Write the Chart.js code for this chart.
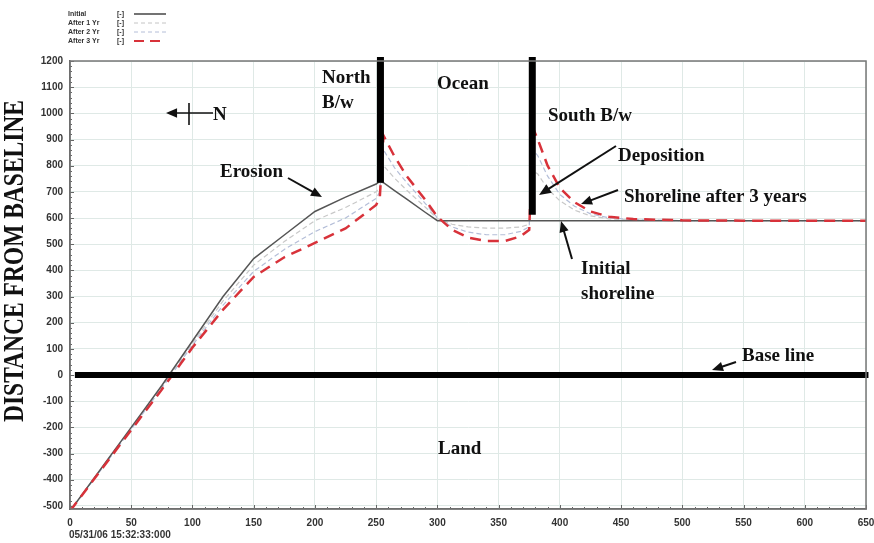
<!DOCTYPE html>
<html>
<head>
<meta charset="utf-8">
<script src="https://cdn.jsdelivr.net/npm/chart.js@4.4.0/dist/chart.umd.min.js"></script>
<style>
  html, body { margin: 0; padding: 0; background: #fff; }
</style>
</head>
<body>
<canvas id="shoreChart" width="874" height="543"></canvas>
<script>
// distance along shore (x) and shoreline position for each run
const alongShore = [0, 25, 50, 75, 100, 125, 150, 175, 200, 225, 250, 253, 256, 265, 275, 290, 300, 312, 325, 340, 355, 368, 375, 378, 382, 390, 400, 412, 425, 440, 460, 500, 550, 600, 650];
const initialLine = [-520, -360, -200, -40, 130, 300, 445, 535, 625, 680, 730, 740, 735, 705, 672, 622, 590, 590, 590, 590, 590, 590, 590, 590, 590, 590, 590, 590, 590, 590, 590, 590, 590, 590, 590];
const after1Yr = [-520, -362, -204, -45, 122, 283, 420, 510, 590, 640, 700, 718, 800, 752, 706, 642, 598, 576, 566, 561, 561, 566, 576, 780, 768, 712, 666, 630, 608, 597, 592, 590, 590, 590, 590];
const after2Yr = [-520, -364, -207, -50, 114, 267, 396, 480, 548, 600, 675, 700, 860, 792, 735, 656, 601, 566, 546, 536, 536, 549, 566, 860, 838, 760, 690, 645, 616, 601, 594, 590, 590, 590, 590];
const after3Yr = [-520, -365, -210, -55, 105, 250, 375, 450, 505, 560, 650, 680, 915, 835, 760, 670, 605, 555, 525, 512, 512, 530, 555, 945, 900, 800, 715, 660, 625, 605, 596, 591, 590, 590, 590];

// structures
const northBreakwater = [{ x: 253.5, y: 1215 }, { x: 253.5, y: 735 }];
const southBreakwater = [{ x: 377.5, y: 1215 }, { x: 377.5, y: 612 }];
const baseLine = [{ x: 4, y: 0 }, { x: 652, y: 0 }];

const xTicks = [0, 50, 100, 150, 200, 250, 300, 350, 400, 450, 500, 550, 600, 650];
const yTicks = [-500, -400, -300, -200, -100, 0, 100, 200, 300, 400, 500, 600, 700, 800, 900, 1000, 1100, 1200];

const legendItems = ['Initial', 'After 1 Yr', 'After 2 Yr', 'After 3 Yr'];

function toPoints(ys) {
  return alongShore.map((x, i) => ({ x: x, y: ys[i] }));
}

const SERIF = '"Liberation Serif", "DejaVu Serif", serif';
const SANS = '"Liberation Sans", Arial, sans-serif';

function arrow(ctx, x1, y1, x2, y2, head) {
  const a = Math.atan2(y2 - y1, x2 - x1);
  ctx.beginPath();
  ctx.moveTo(x1, y1);
  ctx.lineTo(x2 - Math.cos(a) * head * 0.8, y2 - Math.sin(a) * head * 0.8);
  ctx.stroke();
  ctx.beginPath();
  ctx.moveTo(x2, y2);
  ctx.lineTo(x2 - head * Math.cos(a - 0.4), y2 - head * Math.sin(a - 0.4));
  ctx.lineTo(x2 - head * Math.cos(a + 0.4), y2 - head * Math.sin(a + 0.4));
  ctx.closePath();
  ctx.fill();
}

const extrasPlugin = {
  id: 'extras',
  beforeDatasetsDraw(chart) {
    // minor ticks on the axes
    const ctx = chart.ctx, xs = chart.scales.x, ys = chart.scales.y, area = chart.chartArea;
    ctx.save();
    ctx.strokeStyle = '#666';
    ctx.lineWidth = 1;
    for (let v = 0; v <= 650; v += 10) {
      const px = Math.round(xs.getPixelForValue(v)) + 0.5;
      const len = v % 50 === 0 ? 4 : 2;
      ctx.beginPath(); ctx.moveTo(px, area.bottom); ctx.lineTo(px, area.bottom - len); ctx.stroke();
    }
    for (let v = -500; v <= 1200; v += 20) {
      const py = Math.round(ys.getPixelForValue(v)) + 0.5;
      const len = v % 100 === 0 ? 4 : 2;
      ctx.beginPath(); ctx.moveTo(area.left, py); ctx.lineTo(area.left + len, py); ctx.stroke();
    }
    ctx.restore();
  },
  afterDatasetsDraw(chart) {
    const a = chart.chartArea, ctx = chart.ctx;
    ctx.save();
    ctx.strokeStyle = '#777';
    ctx.lineWidth = 1.5;
    ctx.strokeRect(a.left, a.top, a.right - a.left, a.bottom - a.top);
    ctx.restore();
  },
  afterDraw(chart) {
    const ctx = chart.ctx;
    ctx.save();

    // last x tick label, cut at the canvas edge as in the original
    ctx.font = 'bold 10px ' + SANS;
    ctx.fillStyle = '#333';
    ctx.textAlign = 'center';
    ctx.textBaseline = 'top';
    ctx.fillText('650', chart.scales.x.getPixelForValue(650), chart.chartArea.bottom + 9);

    // y axis title, condensed serif
    ctx.save();
    ctx.translate(14, 261);
    ctx.rotate(-Math.PI / 2);
    ctx.font = 'bold 30px ' + SERIF;
    const t = 'DISTANCE FROM BASELINE';
    const w = ctx.measureText(t).width;
    ctx.scale(322 / w, 1);
    ctx.fillStyle = '#111';
    ctx.textAlign = 'center';
    ctx.textBaseline = 'middle';
    ctx.fillText(t, 0, 1);
    ctx.restore();

    // date stamp under x axis
    ctx.font = 'bold 10px ' + SANS;
    ctx.fillStyle = '#333';
    ctx.textAlign = 'left';
    ctx.textBaseline = 'middle';
    ctx.fillText('05/31/06 15:32:33:000', 69, 535);

    // legend
    ctx.font = 'bold 7px ' + SANS;
    const styles = [
      { c: '#444', w: 1.5, d: [] },
      { c: '#c4c4c4', w: 1, d: [4, 3] },
      { c: '#b4bed8', w: 1, d: [4, 3] },
      { c: '#d8323a', w: 2, d: [10, 6] }
    ];
    legendItems.forEach((lab, i) => {
      const y = 14 + i * 9;
      ctx.fillStyle = '#333';
      ctx.fillText(lab, 68, y);
      ctx.fillText('[-]', 117, y);
      ctx.strokeStyle = styles[i].c;
      ctx.lineWidth = styles[i].w;
      ctx.setLineDash(styles[i].d);
      ctx.beginPath(); ctx.moveTo(134, y); ctx.lineTo(166, y); ctx.stroke();
    });
    ctx.setLineDash([]);

    // annotation texts
    ctx.font = 'bold 19px ' + SERIF;
    ctx.fillStyle = '#111';
    ctx.textBaseline = 'middle';
    ctx.fillText('North', 322, 78);
    ctx.fillText('B/w', 322, 103);
    ctx.fillText('Ocean', 437, 84);
    ctx.fillText('South B/w', 548, 116);
    ctx.fillText('Erosion', 220, 172);
    ctx.fillText('Deposition', 618, 156);
    ctx.fillText('Shoreline after 3 years', 624, 197);
    ctx.fillText('Initial', 581, 269);
    ctx.fillText('shoreline', 581, 294);
    ctx.fillText('Base line', 742, 356);
    ctx.fillText('Land', 438, 449);
    ctx.fillText('N', 213, 115);

    // arrows
    ctx.strokeStyle = '#111';
    ctx.fillStyle = '#111';
    ctx.lineWidth = 2;
    arrow(ctx, 288, 178, 322, 197, 12);
    arrow(ctx, 616, 146, 539, 195, 13);
    arrow(ctx, 618, 190, 581, 204, 12);
    arrow(ctx, 572, 259, 561, 221, 12);
    arrow(ctx, 736, 362, 712, 370, 12);

    // north arrow symbol
    ctx.lineWidth = 1.6;
    arrow(ctx, 213, 113, 166, 113, 12);
    ctx.beginPath(); ctx.moveTo(189, 103); ctx.lineTo(189, 125); ctx.stroke();

    ctx.restore();
  }
};

const chart = new Chart(document.getElementById('shoreChart'), {
  type: 'line',
  data: {
    datasets: [
      { label: 'north', data: northBreakwater, borderColor: '#000', borderWidth: 7, pointRadius: 0, clip: false, borderCapStyle: 'butt' },
      { label: 'south', data: southBreakwater, borderColor: '#000', borderWidth: 7, pointRadius: 0, clip: false, borderCapStyle: 'butt' },
      { label: 'base', data: baseLine, borderColor: '#000', borderWidth: 6, pointRadius: 0, clip: false },
      { label: 'After 3 Yr', data: toPoints(after3Yr), borderColor: '#d8323a', borderWidth: 2.5, borderDash: [11, 7], pointRadius: 0 },
      { label: 'Initial', data: toPoints(initialLine), borderColor: '#555', borderWidth: 1.5, pointRadius: 0 },
      { label: 'After 2 Yr', data: toPoints(after2Yr), borderColor: '#b4bed8', borderWidth: 1.2, borderDash: [5, 3], pointRadius: 0 },
      { label: 'After 1 Yr', data: toPoints(after1Yr), borderColor: '#c8c8c8', borderWidth: 1.2, borderDash: [5, 3], pointRadius: 0 }
    ]
  },
  options: {
    responsive: false,
    animation: false,
    layout: { padding: { top: 61, right: 2, left: 0, bottom: 0 } },
    plugins: { legend: { display: false }, tooltip: { enabled: false } },
    scales: {
      x: {
        type: 'linear', min: 0, max: 650,
        afterBuildTicks: s => { s.ticks = xTicks.map(v => ({ value: v })); },
        afterFit: s => { s.height = 34; },
        grid: { color: '#dfe9e6', drawTicks: false },
        border: { color: '#555', width: 1.5 },
        ticks: {
          font: { family: SANS, size: 10, weight: 'bold' }, color: '#333', padding: 8, maxRotation: 0,
          callback: v => (v === 650 ? '' : String(v))
        }
      },
      y: {
        type: 'linear', min: -512, max: 1200,
        afterBuildTicks: s => { s.ticks = yTicks.map(v => ({ value: v })); },
        afterFit: s => { s.width = 70; },
        grid: { color: '#dfe9e6', drawTicks: false },
        border: { color: '#555', width: 1.5 },
        ticks: {
          font: { family: SANS, size: 10, weight: 'bold' }, color: '#333', padding: 7,
          callback: v => String(v)
        }
      }
    }
  },
  plugins: [extrasPlugin]
});
</script>
</body>
</html>
